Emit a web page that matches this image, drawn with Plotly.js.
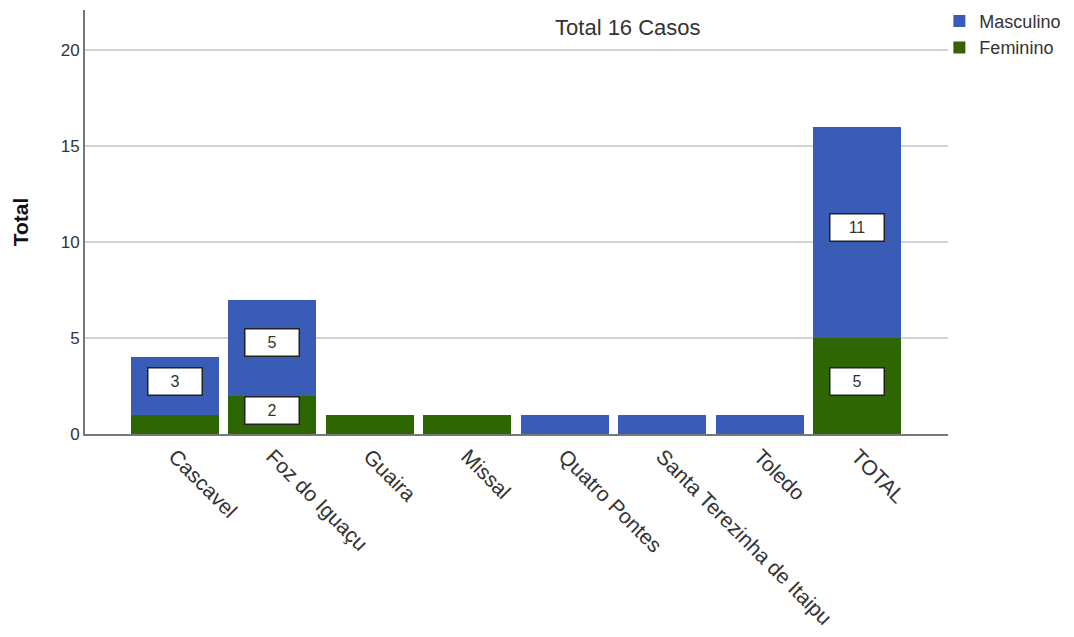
<!DOCTYPE html>
<html>
<head>
<meta charset="utf-8">
<script src="https://cdn.plot.ly/plotly-3.0.1.min.js"></script>
<style>html,body{margin:0;padding:0;background:#fff;}#chart{width:1074px;height:637px;}</style>
</head>
<body>
<div id="chart"></div>
<script>
const categories = ["Cascavel", "Foz do Iguaçu", "Guaira", "Missal", "Quatro Pontes", "Santa Terezinha de Itaipu", "Toledo", "TOTAL"];
const feminino = [1, 2, 1, 1, 0, 0, 0, 5];
const masculino = [3, 5, 0, 0, 1, 1, 1, 11];
const chartTitle = "Total 16 Casos";

const colF = "#2e6604";
const colM = "#3b5cb6";
const FONT = "Liberation Sans, Arial, sans-serif";

const traces = [
  {type: "bar", name: "Feminino", x: categories, y: feminino, marker: {color: colF}, hoverinfo: "x+y+name"},
  {type: "bar", name: "Masculino", x: categories, y: masculino, marker: {color: colM}, hoverinfo: "x+y+name"}
];

const labels = [];
categories.forEach((c, i) => {
  if (feminino[i] > 1) labels.push({x: c, y: feminino[i] / 2 + 0.25, v: feminino[i]});
  if (masculino[i] > 1) labels.push({x: c, y: feminino[i] + masculino[i] / 2 + 0.25, v: masculino[i]});
});
const annots = labels.map(a => ({
  x: a.x, y: a.y, xref: "x", yref: "y", text: String(a.v), showarrow: false,
  bgcolor: "#ffffff", bordercolor: "#222222", borderwidth: 1.5, borderpad: 3,
  width: 47, height: 20, font: {family: FONT, size: 16, color: "#333"}
}));

const layout = {
  width: 1074, height: 637,
  margin: {l: 85, r: 126, t: 10, b: 203, autoexpand: false},
  paper_bgcolor: "#fff", plot_bgcolor: "#fff",
  barmode: "stack", bargap: 0.1,
  font: {family: FONT, color: "#333"},
  title: {text: chartTitle, x: 0.629, xref: "paper", xanchor: "center",
          y: 1 - 27/637, yref: "container", yanchor: "middle",
          font: {family: FONT, size: 22, color: "#333"}},
  showlegend: true,
  legend: {x: 0.990, y: 1.017, xanchor: "left", yanchor: "top", traceorder: "reversed",
           font: {size: 18, color: "#333"}, itemwidth: 30, tracegroupgap: 0, bgcolor: "rgba(0,0,0,0)"},
  xaxis: {
    type: "category", range: [-0.92, 7.93], tickangle: 45,
    tickfont: {size: 21, color: "#333"}, showgrid: false,
    showline: true, linecolor: "#777", linewidth: 2, ticks: "", automargin: false
  },
  yaxis: {
    range: [0, 22.1], tickvals: [0, 5, 10, 15, 20], tickfont: {size: 17, color: "#333"},
    showgrid: true, gridcolor: "#d4d4d4", gridwidth: 2, zeroline: false,
    showline: true, linecolor: "#777", linewidth: 2, ticks: "",
    title: {text: "<b>Total</b>", font: {size: 21, color: "#111"}, standoff: 26},
    automargin: false
  },
  annotations: annots
};

Plotly.newPlot("chart", traces, layout, {displayModeBar: false, staticPlot: true});
</script>
</body>
</html>
